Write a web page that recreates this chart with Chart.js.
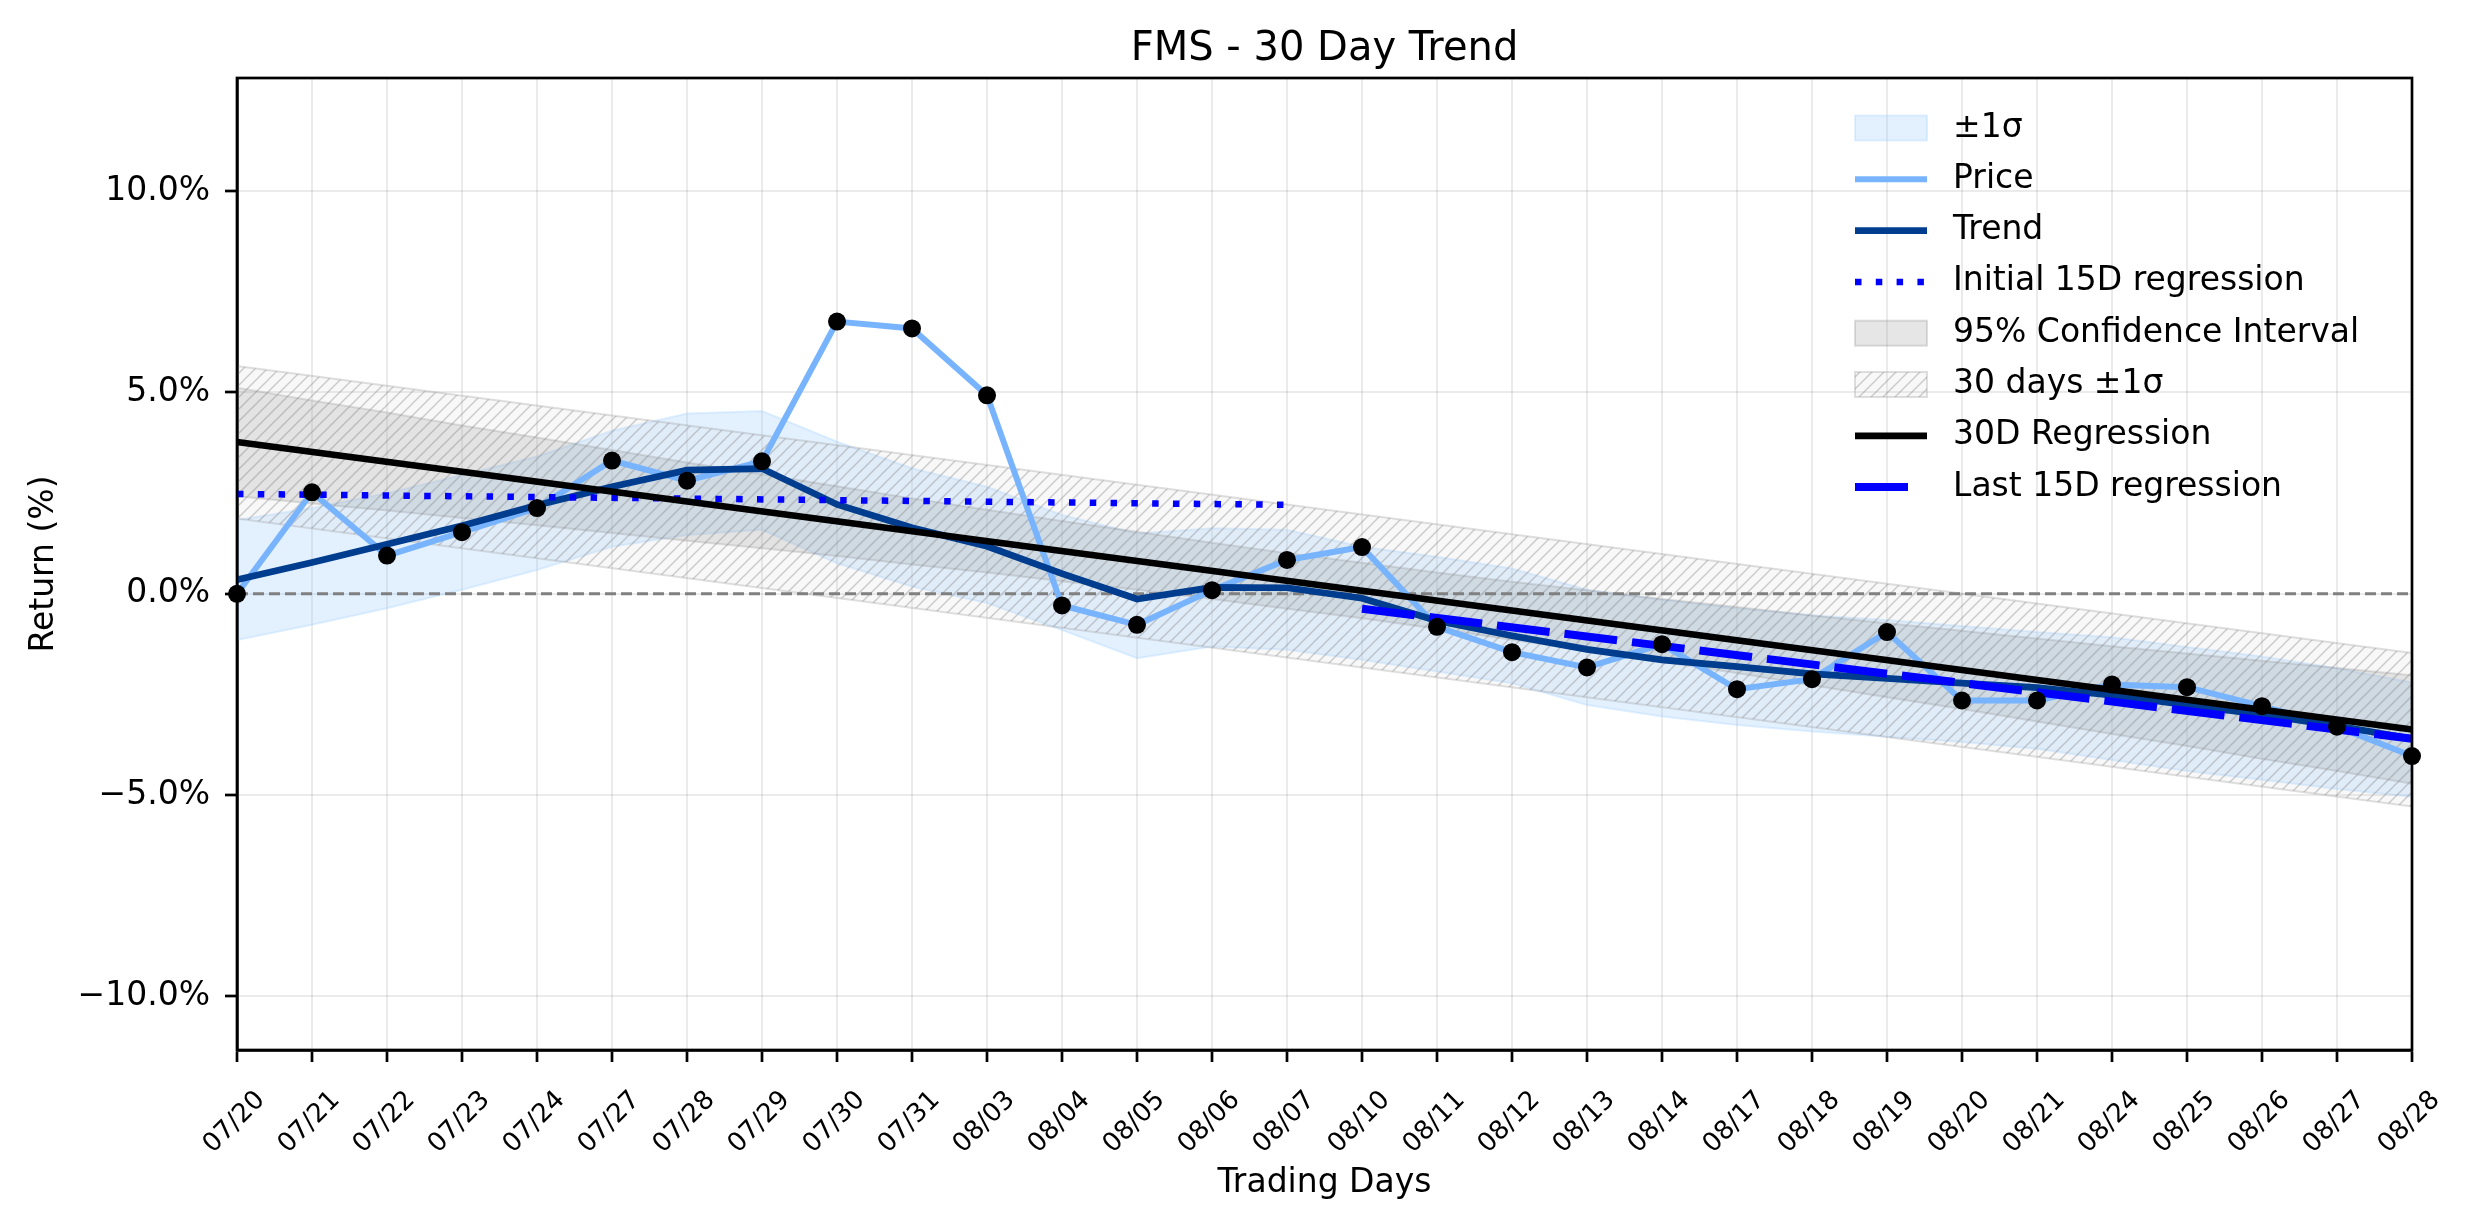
<!DOCTYPE html>
<html>
<head>
<meta charset="utf-8">
<script src="https://cdn.jsdelivr.net/npm/chart.js@4.4.1/dist/chart.umd.min.js"></script>
<style>
  html, body { margin: 0; padding: 0; background: #fff; }
</style>
</head>
<body>
<canvas id="c" width="2474" height="1224"></canvas>
<script>
// trading days on the x axis
const days = ['07/20', '07/21', '07/22', '07/23', '07/24', '07/27', '07/28', '07/29', '07/30', '07/31',
  '08/03', '08/04', '08/05', '08/06', '08/07', '08/10', '08/11', '08/12', '08/13', '08/14',
  '08/17', '08/18', '08/19', '08/20', '08/21', '08/24', '08/25', '08/26', '08/27', '08/28'];

// cumulative return (%)
const price = [0.00, 2.52, 0.95, 1.53, 2.13, 3.31, 2.81, 3.29, 6.76, 6.59,
  4.93, -0.29, -0.77, 0.09, 0.84, 1.16, -0.82, -1.45, -1.83, -1.25,
  -2.37, -2.12, -0.95, -2.65, -2.65, -2.25, -2.32, -2.79, -3.30, -4.03];

const trend = [0.35, 0.78, 1.23, 1.69, 2.20, 2.66, 3.07, 3.11, 2.22, 1.64,
  1.18, 0.50, -0.13, 0.16, 0.15, -0.11, -0.67, -1.04, -1.38, -1.64,
  -1.81, -1.99, -2.10, -2.22, -2.33, -2.52, -2.76, -3.00, -3.28, -3.60];

// trend +/- 1 sigma
const sigmaUpper = [1.83, 2.13, 2.50, 2.95, 3.41, 4.05, 4.48, 4.54, 3.78, 3.12,
  2.66, 1.96, 1.50, 1.63, 1.59, 1.17, 0.92, 0.63, 0.10, -0.15,
  -0.36, -0.53, -0.65, -0.80, -0.95, -1.08, -1.32, -1.56, -1.85, -2.20];
const sigmaLower = [-1.15, -0.77, -0.36, 0.10, 0.59, 1.17, 1.46, 1.59, 0.76, 0.18,
  -0.23, -0.90, -1.60, -1.31, -1.39, -1.64, -1.93, -2.22, -2.76, -3.05,
  -3.26, -3.42, -3.55, -3.68, -3.85, -4.13, -4.40, -4.62, -4.85, -5.04];

// 95% confidence interval of the 30D regression
const ciUpper = [5.12, 4.80, 4.50, 4.18, 3.88, 3.57, 3.26, 2.97, 2.67, 2.37,
  2.09, 1.81, 1.54, 1.27, 1.01, 0.77, 0.53, 0.30, 0.09, -0.13,
  -0.33, -0.54, -0.73, -0.92, -1.11, -1.30, -1.48, -1.66, -1.84, -2.02];
const ciLower = [2.42, 2.24, 2.07, 1.88, 1.70, 1.51, 1.32, 1.13, 0.94, 0.73,
  0.53, 0.31, 0.10, -0.13, -0.37, -0.61, -0.87, -1.14, -1.41, -1.69,
  -1.97, -2.27, -2.57, -2.86, -3.17, -3.48, -3.78, -4.10, -4.40, -4.72];

// straight lines: value at first and last day of each
const regDays = ['07/20', '08/28'];
const reg30 = [3.77, -3.37];
const band30Upper = [5.66, -1.47];
const band30Lower = [1.87, -5.28];
const zeroLine = [0, 0];
const initRegDays = ['07/20', '08/07'];
const initReg = [2.48, 2.21];
const lastRegDays = ['08/10', '08/28'];
const lastReg = [-0.37, -3.60];

const yTicks = [-10, -5, 0, 5, 10];

const chartTitle = 'FMS - 30 Day Trend';
const legendOrder = ['±1σ', 'Price', 'Trend', 'Initial 15D regression',
  '95% Confidence Interval', '30 days ±1σ', '30D Regression', 'Last 15D regression'];

function pts(xs, ys) {
  return xs.map((x, i) => ({ x: x, y: ys[i] }));
}

function hatch() {
  const s = 12;
  const c = document.createElement('canvas');
  c.width = s;
  c.height = s;
  const g = c.getContext('2d');
  g.fillStyle = 'rgba(210,210,210,0.15)';
  g.fillRect(0, 0, s, s);
  g.strokeStyle = 'rgba(120,120,120,0.35)';
  g.lineWidth = 1.5;
  g.beginPath();
  g.moveTo(-2, s + 2); g.lineTo(s + 2, -2);
  g.moveTo(-2, 2); g.lineTo(2, -2);
  g.moveTo(s - 2, s + 2); g.lineTo(s + 2, s - 2);
  g.stroke();
  return g.createPattern(c, 'repeat');
}

const sigmaFill = 'rgba(144,200,255,0.25)';
const ciFill = 'rgba(128,128,128,0.2)';

// top and right spines, plus title centred over the axes
const frame = {
  id: 'frame',
  afterDraw(chart) {
    const a = chart.chartArea, ctx = chart.ctx;
    ctx.save();
    ctx.strokeStyle = '#000';
    ctx.lineWidth = 2.7;
    ctx.strokeRect(a.left, a.top, a.right - a.left, a.bottom - a.top);
    ctx.fillStyle = '#000';
    ctx.font = '40px "DejaVu Sans"';
    ctx.textAlign = 'center';
    ctx.textBaseline = 'alphabetic';
    ctx.fillText(chartTitle, (a.left + a.right) / 2, 60);
    ctx.restore();
  }
};

// legend drawn inside the plot, matplotlib style
const legendBox = {
  id: 'legendBox',
  afterDraw(chart) {
    const ctx = chart.ctx;
    const x0 = 1855, x1 = 1927, tx = 1953;
    ctx.save();
    ctx.font = '33px "DejaVu Sans"';
    ctx.textBaseline = 'middle';
    legendOrder.forEach((name, i) => {
      const ds = chart.data.datasets.find(d => d.label === name);
      const y = 128 + i * 51.3;
      if (ds.fill) {
        ctx.fillStyle = ds.backgroundColor;
        ctx.fillRect(x0, y - 12.5, x1 - x0, 25);
        ctx.strokeStyle = ds.borderColor;
        ctx.lineWidth = 2;
        ctx.strokeRect(x0, y - 12.5, x1 - x0, 25);
      } else {
        ctx.strokeStyle = ds.borderColor;
        ctx.lineWidth = ds.borderWidth;
        ctx.lineCap = 'butt';
        ctx.setLineDash(ds.borderDash || []);
        ctx.beginPath();
        ctx.moveTo(x0, y);
        ctx.lineTo(ds.borderDash && ds.borderDash[0] > 40 ? x0 + ds.borderDash[0] : x1, y);
        ctx.stroke();
        ctx.setLineDash([]);
      }
      ctx.fillStyle = '#000';
      ctx.fillText(name, tx, y);
    });
    ctx.restore();
  }
};

Chart.defaults.font.family = '"DejaVu Sans", sans-serif';
Chart.defaults.color = '#000';

new Chart(document.getElementById('c'), {
  type: 'line',
  plugins: [frame, legendBox],
  data: {
    labels: days,
    datasets: [
      { label: 'points', data: price, showLine: false, pointRadius: 9,
        pointBackgroundColor: '#000', pointBorderWidth: 0, order: 0 },
      { label: 'Last 15D regression', data: pts(lastRegDays, lastReg), borderColor: '#0000ff',
        borderWidth: 8, borderDash: [53, 15], order: 1 },
      { label: '30D Regression', data: pts(regDays, reg30), borderColor: '#000000',
        borderWidth: 6.7, order: 2 },
      { label: 'Initial 15D regression', data: pts(initRegDays, initReg), borderColor: '#0000ff',
        borderWidth: 6.5, borderDash: [6.5, 14.3], order: 3 },
      { label: 'Trend', data: trend, borderColor: '#003d8f', borderWidth: 6.7, order: 4 },
      { label: 'Price', data: price, borderColor: '#78b4fe', borderWidth: 6, order: 5 },
      { label: 'zero', data: pts(regDays, zeroLine), borderColor: '#808080',
        borderWidth: 3, borderDash: [11, 5], order: 6 },
      { label: '30 days ±1σ', data: pts(regDays, band30Upper), fill: '+1', backgroundColor: hatch(),
        borderColor: 'rgba(150,150,150,0.3)', borderWidth: 2, order: 7 },
      { label: '30 days lower', data: pts(regDays, band30Lower),
        borderColor: 'rgba(150,150,150,0.3)', borderWidth: 2, order: 7.5 },
      { label: '95% Confidence Interval', data: ciUpper, fill: '+1', backgroundColor: ciFill,
        borderColor: 'rgba(128,128,128,0.25)', borderWidth: 2, order: 8 },
      { label: 'ci lower', data: ciLower, borderColor: 'rgba(128,128,128,0.25)', borderWidth: 2, order: 8.5 },
      { label: '±1σ', data: sigmaUpper, fill: '+1', backgroundColor: sigmaFill,
        borderColor: sigmaFill, borderWidth: 2, order: 9 },
      { label: 'sigma lower', data: sigmaLower, borderColor: sigmaFill, borderWidth: 2, order: 9.5 },
    ],
  },
  options: {
    responsive: false,
    devicePixelRatio: 1,
    animation: false,
    elements: {
      point: { radius: 0 },
      line: { tension: 0, borderCapStyle: 'butt' },
    },
    layout: {
      padding: { left: 0, right: 62, top: 78, bottom: 0 },
    },
    scales: {
      x: {
        type: 'category',
        offset: false,
        grid: { color: 'rgba(0,0,0,0.08)', lineWidth: 2, tickLength: 12, tickColor: '#000', tickWidth: 2.7 },
        border: { color: '#000', width: 2.7 },
        ticks: { autoSkip: false, minRotation: 45, maxRotation: 45, font: { size: 26 },
          padding: 23, labelOffset: 24 },
        title: { display: true, text: 'Trading Days', font: { size: 33 }, padding: { top: 0, bottom: 21 } },
        afterFit(s) {
          s.height = 174;
          s.paddingLeft = 0;
          s.paddingRight = 0;
        },
      },
      y: {
        type: 'linear',
        min: -11.33,
        max: 12.81,
        afterBuildTicks(s) {
          s.ticks = yTicks.map(v => ({ value: v }));
        },
        grid: { color: 'rgba(0,0,0,0.08)', lineWidth: 2, tickLength: 12, tickColor: '#000', tickWidth: 2.7 },
        border: { color: '#000', width: 2.7 },
        ticks: {
          font: { size: 33 },
          padding: 15,
          callback: v => (v.toFixed(1) + '%').replace('-', '\u2212'),
        },
        title: { display: true, text: 'Return (%)', font: { size: 33 }, padding: { top: 25, bottom: 0 } },
        afterFit(s) {
          s.width = 237;
          s.paddingTop = 0;
          s.paddingBottom = 0;
        },
      },
    },
    plugins: {
      legend: { display: false },
      tooltip: { enabled: false },
      title: { display: false },
    },
  },
});
</script>
</body>
</html>
